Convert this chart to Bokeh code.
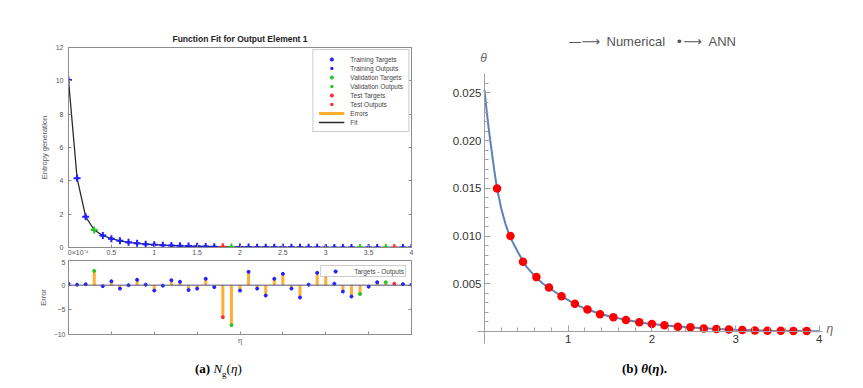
import numpy as np
from bokeh.plotting import figure
from bokeh.models import (Range1d, LinearAxis, FixedTicker, Legend, LegendItem, Label, Div,
                          Span, NumeralTickFormatter, CustomJSTickFormatter)
from bokeh.layouts import row, column
from bokeh.embed import file_html
from bokeh.resources import INLINE

# ---------------- panel (a): MATLAB function fit ----------------
eta_a = [0.0, 0.1, 0.2, 0.3, 0.4, 0.5, 0.6, 0.7, 0.8, 0.9,
         1.0, 1.1, 1.2, 1.3, 1.4, 1.5, 1.6, 1.7, 1.8, 1.9,
         2.0, 2.1, 2.2, 2.3, 2.4, 2.5, 2.6, 2.7, 2.8, 2.9,
         3.0, 3.1, 3.2, 3.3, 3.4, 3.5, 3.6, 3.7, 3.8, 3.9, 4.0]
ng_outputs = [10.05, 4.16, 1.85, 1.05, 0.72, 0.53, 0.40, 0.31, 0.25, 0.20,
              0.17, 0.14, 0.12, 0.10, 0.085, 0.07, 0.06, 0.05, 0.042, 0.036,
              0.03, 0.026, 0.022, 0.019, 0.016, 0.014, 0.012, 0.010, 0.009, 0.008,
              0.007, 0.006, 0.005, 0.0045, 0.004, 0.0035, 0.003, 0.0027, 0.0024, 0.0021, 0.0019]
ng_errors_e4 = [0.3, 0.1, 0.2, 2.9, -0.2, 0.8, -0.7, 0.0, 1.1, 0.1,
                -1.1, -0.1, 1.0, 0.7, -1.0, -0.7, 1.3, -0.4, -6.5, -8.1,
                -1.1, 2.7, -0.7, -2.1, 1.3, 2.3, -0.7, -2.5, 0.1, 2.5,
                2.0, 0.3, -1.3, -2.3, -1.8, -0.3, 0.6, 0.6, 0.3, 0.2, 0.1]
validation_idx = [3, 19, 34, 37]
test_idx = [18, 38]
fit_xticks = [0, 0.5, 1, 1.5, 2, 2.5, 3, 3.5, 4]
fit_yticks = [0, 2, 4, 6, 8, 10, 12]
err_yticks = [-10, -5, 0, 5]

# ---------------- panel (b): Mathematica theta(eta) ----------------
eta_num = [0.0, 0.025, 0.05, 0.075, 0.1, 0.125, 0.15, 0.2, 0.25, 0.3,
           0.4, 0.5, 0.6, 0.7, 0.8, 0.9, 1.0, 1.1, 1.2, 1.3,
           1.4, 1.5, 1.6, 1.7, 1.8, 1.9, 2.0, 2.2, 2.4, 2.6,
           2.8, 3.0, 3.2, 3.4, 3.6, 3.8, 4.0]
theta_num = [0.0253, 0.0232, 0.0213, 0.0196, 0.0180, 0.0164, 0.0150, 0.0129, 0.0113, 0.0100,
             0.0083, 0.0068, 0.0058, 0.0050, 0.0044, 0.0038, 0.0033, 0.0028, 0.0024, 0.0021,
             0.0018, 0.00157, 0.00138, 0.0012, 0.00105, 0.0009, 0.00078, 0.0006, 0.00047, 0.00034,
             0.00025, 0.00018, 0.00012, 0.00008, 0.00006, 0.00004, 0.00003]
eta_ann = [0.15, 0.31, 0.46, 0.62, 0.77, 0.92, 1.08, 1.23, 1.38, 1.54,
           1.69, 1.85, 2.0, 2.15, 2.31, 2.46, 2.62, 2.77, 2.92, 3.08,
           3.23, 3.38, 3.54, 3.69, 3.85]
theta_ann = [0.0150, 0.0100, 0.0073, 0.0057, 0.0046, 0.0037, 0.0029, 0.0023, 0.0018, 0.0015,
             0.0012, 0.00098, 0.00078, 0.00066, 0.00050, 0.00044, 0.00032, 0.00025, 0.00021, 0.00015,
             0.00011, 0.00008, 0.00007, 0.00005, 0.00004]
theta_xticks = [1, 2, 3, 4]
theta_yticks = [0.005, 0.010, 0.015, 0.020, 0.025]
theta_xbounds = (-0.0836, 4.038)
theta_ybounds = (-0.001258, 0.027044)

SANS = "Liberation Sans"
SERIF = "Liberation Serif"
C_TRAIN, C_VAL, C_TEST = "#1f1fff", "#22c722", "#ff2a2a"
C_ERR = "#ffad33"
BLANK = CustomJSTickFormatter(code="return ''")

n = len(eta_a)
groups = {"train": [i for i in range(n) if i not in validation_idx and i not in test_idx],
          "val": validation_idx, "test": test_idx}
gcol = {"train": C_TRAIN, "val": C_VAL, "test": C_TEST}
ng_targets = [o + e * 1e-4 for o, e in zip(ng_outputs, ng_errors_e4)]


def style_matlab(ax):
    ax.axis_line_color = "#8c8c8c"
    ax.major_tick_line_color = "#8c8c8c"
    ax.minor_tick_line_color = None
    ax.major_tick_in = 3
    ax.major_tick_out = 0
    ax.major_label_text_font = SANS
    ax.major_label_text_font_size = "7px"
    ax.major_label_text_color = "#555555"
    ax.axis_label_text_font = SANS
    ax.axis_label_text_font_size = "7.5px"
    ax.axis_label_text_font_style = "normal"
    ax.axis_label_text_color = "#555555"


def style_legend(leg):
    leg.label_text_font = SANS
    leg.label_text_font_size = "6.5px"
    leg.label_text_color = "#444444"
    leg.border_line_color = "#9a9a9a"


# ---- main fit plot
p1 = figure(width=430, height=259, x_range=Range1d(0, 4), y_range=Range1d(0, 12),
            output_backend="svg", toolbar_location=None,
            min_border_left=68, min_border_right=19, min_border_top=47, min_border_bottom=12)
p1.grid.visible = False
p1.outline_line_color = "#8c8c8c"
p1.title.text = "Function Fit for Output Element 1"
p1.title.align = "center"
p1.title.text_font = SANS
p1.title.text_font_size = "8.5px"
p1.title.text_color = "#222222"
p1.title.standoff = 7
p1.xaxis.ticker = FixedTicker(ticks=fit_xticks)
p1.xaxis.formatter = NumeralTickFormatter(format="0.[0]")
p1.xaxis.major_label_overrides = {0: "\u00a0" * 10 + "0\u00d710\u207b\u2074"}
p1.yaxis.ticker = FixedTicker(ticks=fit_yticks)
p1.yaxis.axis_label = "Entropy generation"
for ax in (p1.xaxis[0], p1.yaxis[0]):
    style_matlab(ax)
p1.xaxis.major_label_standoff = 1
p1.yaxis.major_label_standoff = 5
p1.yaxis.axis_label_standoff = 4
ra = LinearAxis(ticker=FixedTicker(ticks=fit_yticks), formatter=BLANK)
style_matlab(ra)
p1.add_layout(ra, "right")

r_fit = p1.line(eta_a, ng_outputs, line_color="#2b2b2b", line_width=1.3)
r_err = p1.segment(x0=eta_a, y0=ng_outputs, x1=eta_a, y1=ng_targets, line_color=C_ERR, line_width=3)
rs = {}
for g, idx in groups.items():
    xs = [eta_a[i] for i in idx]
    rs[g + "_out"] = p1.scatter(xs, [ng_outputs[i] for i in idx],
                                marker="cross", size=7, line_width=2, color=gcol[g])
    rs[g + "_tgt"] = p1.scatter(xs, [ng_targets[i] for i in idx], marker="circle",
                                size=2.5, color=gcol[g])

leg1 = Legend(items=[
    LegendItem(label="Training Targets", renderers=[rs["train_tgt"]]),
    LegendItem(label="Training Outputs", renderers=[rs["train_out"]]),
    LegendItem(label="Validation Targets", renderers=[rs["val_tgt"]]),
    LegendItem(label="Validation Outputs", renderers=[rs["val_out"]]),
    LegendItem(label="Test Targets", renderers=[rs["test_tgt"]]),
    LegendItem(label="Test Outputs", renderers=[rs["test_out"]]),
    LegendItem(label="Errors", renderers=[r_err]),
    LegendItem(label="Fit", renderers=[r_fit]),
], location="top_right")
style_legend(leg1)
leg1.glyph_width = 26
leg1.glyph_height = 8
leg1.label_height = 8
leg1.spacing = 1
leg1.padding = 5
leg1.margin = 2
leg1.label_standoff = 6
p1.add_layout(leg1)

# ---- error plot
p2 = figure(width=430, height=90, x_range=Range1d(0, 4), y_range=Range1d(-10, 5),
            output_backend="svg", toolbar_location=None,
            min_border_left=68, min_border_right=19, min_border_top=1, min_border_bottom=15)
p2.grid.visible = False
p2.outline_line_color = "#8c8c8c"
p2.xaxis.ticker = FixedTicker(ticks=fit_xticks)
p2.xaxis.formatter = BLANK
p2.xaxis.axis_label = "\u03b7"
p2.yaxis.ticker = FixedTicker(ticks=err_yticks)
p2.yaxis.axis_label = "Error"
for ax in (p2.xaxis[0], p2.yaxis[0]):
    style_matlab(ax)
p2.xaxis.major_label_standoff = 0
p2.xaxis.axis_label_standoff = 1
p2.yaxis.major_label_standoff = 3
p2.yaxis.axis_label_standoff = 3
ra2 = LinearAxis(ticker=FixedTicker(ticks=err_yticks), formatter=BLANK)
style_matlab(ra2)
p2.add_layout(ra2, "right")

p2.add_layout(Span(location=0, dimension="width", line_color="#50507a", line_width=1))
p2.segment(x0=eta_a, y0=[0] * n, x1=eta_a, y1=ng_errors_e4, line_color=C_ERR, line_width=3)
re = {}
for g, idx in groups.items():
    re[g] = p2.scatter([eta_a[i] for i in idx], [ng_errors_e4[i] for i in idx],
                       marker="circle", size=3, color=gcol[g])
leg2 = Legend(items=[LegendItem(label="Targets - Outputs", renderers=[re["train"]])],
              location="top_right")
style_legend(leg2)
leg2.glyph_width = 26
leg2.glyph_height = 8
leg2.label_height = 8
leg2.padding = 1
leg2.margin = 5
leg2.label_standoff = 6
p2.add_layout(leg2)

cap_style = ("position:relative; top:12px; font-family:'Liberation Serif'; font-size:13px; "
             "color:#000; white-space:nowrap; line-height:15px;")
div_a = Div(text='<div style="' + cap_style + ' left:195px;"><b>(a)</b> <i>N</i><sub style="font-size:9px">g</sub>(<i>\u03b7</i>)</div>',
            width=430, height=30, margin=0)

# ---- panel (b): frame covers the whole canvas, axes are bounded and cross at the origin
p3 = figure(width=425, height=349, x_range=Range1d(-0.6452, 4.4325),
            y_range=Range1d(-0.001887, 0.034696),
            output_backend="svg", toolbar_location=None, title_location=None,
            min_border=0)
p3.grid.visible = False
p3.outline_line_color = None
p3.xaxis.fixed_location = 0
p3.yaxis.fixed_location = 0
p3.xaxis.bounds = theta_xbounds
p3.yaxis.bounds = theta_ybounds
p3.xaxis.ticker = FixedTicker(ticks=theta_xticks,
                              minor_ticks=[round(0.2 * k, 1) for k in range(1, 20) if k % 5])
p3.yaxis.ticker = FixedTicker(ticks=theta_yticks,
                              minor_ticks=[round(0.001 * k, 3) for k in range(1, 27) if k % 5])
p3.xaxis.formatter = NumeralTickFormatter(format="0")
p3.yaxis.formatter = NumeralTickFormatter(format="0.000")
for ax in (p3.xaxis[0], p3.yaxis[0]):
    ax.axis_line_color = "#a0a0a0"
    ax.major_tick_line_color = "#a0a0a0"
    ax.minor_tick_line_color = "#a0a0a0"
    ax.major_tick_in = 6
    ax.major_tick_out = 0
    ax.minor_tick_in = 4
    ax.minor_tick_out = 0
    ax.major_label_text_font = SANS
    ax.major_label_text_font_size = "11.5px"
    ax.major_label_text_color = "#333333"
p3.xaxis.major_label_standoff = 4
p3.yaxis.major_label_standoff = 3

r_num = p3.line(eta_num, theta_num, line_color="#5E81B5", line_width=2)
p3.scatter(eta_ann, theta_ann, marker="circle", size=8.5, fill_color="#ff0000", line_color=None)


def add_text(x, y, text, size, font=SANS, color="#555555", align="left", style="normal"):
    p3.add_layout(Label(x=x, y=y, text=text, text_font=font, text_font_size=size,
                        text_color=color, text_align=align, text_baseline="middle",
                        text_font_style=style))


add_text(1.0036, 0.030398, "\u2014\u27f6", "13px", font="DejaVu Sans")
add_text(1.4576, 0.030398, "Numerical", "13px")
add_text(2.282, 0.030398, "\u2022\u27f6", "13px", font="DejaVu Sans")
add_text(2.676, 0.030398, "ANN", "13px")
add_text(-0.012, 0.028721, "\u03b8", "12px", color="#666666", align="center", style="italic")
add_text(4.086, 0.00021, "\u03b7", "12px", color="#666666", style="italic")

div_b = Div(text='<div style="' + cap_style + ' left:192px;"><b>(b) <i>\u03b8</i>(<i>\u03b7</i>).</b></div>',
            width=425, height=30, margin=0)

layout = row(column(p1, p2, div_a), column(p3, div_b))
open("out.html", "w").write(file_html(layout, INLINE))
